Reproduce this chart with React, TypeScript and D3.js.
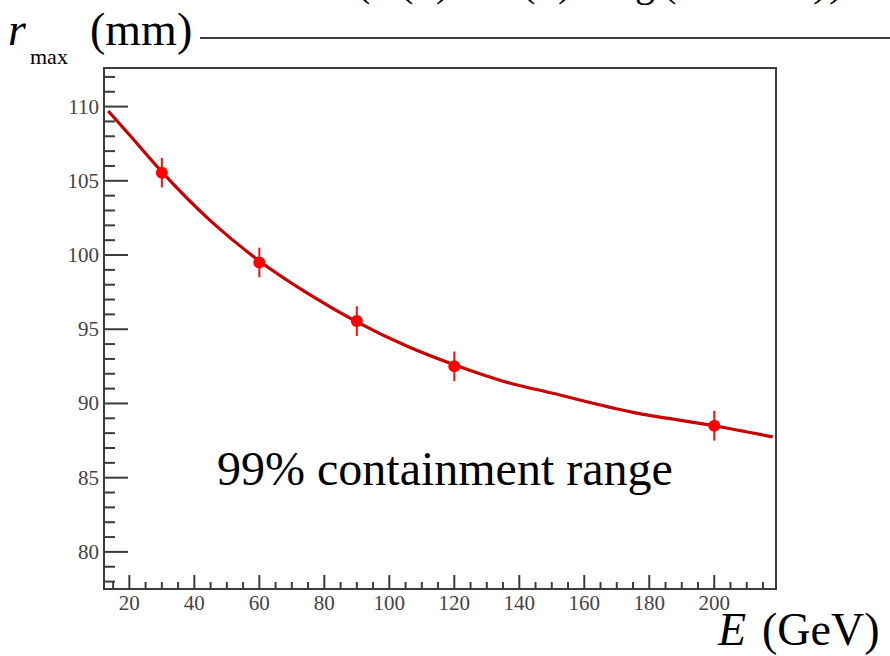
import React from "react";
import * as d3 from "d3";

// Measured points: beam energy (GeV), radius (mm), uncertainty (mm)
const energies = [30, 60, 90, 120, 200];
const radii = [105.55, 99.5, 95.55, 92.5, 88.5];
const errors = [1.0, 1.0, 1.0, 1.0, 1.0];

// Fitted curve, sampled along the energy range
const fitE = [13.5, 20, 30, 45, 60, 75, 90, 105, 120, 135, 150, 175, 200, 218];
const fitR = [109.7, 108.1, 105.6, 102.3, 99.6, 97.4, 95.5, 93.9, 92.6, 91.5, 90.7, 89.4, 88.5, 87.75];

const xMajor = [20, 40, 60, 80, 100, 120, 140, 160, 180, 200];
const yMajor = [80, 85, 90, 95, 100, 105, 110];

const W = 890;
const H = 656;
const left = 104, right = 776, top = 68, bottom = 589;
const serif = "'Liberation Serif', 'Times New Roman', serif";

export default function App() {
  const x = d3.scaleLinear().domain([12.2, 219]).range([left, right]);
  const y = d3.scaleLinear().domain([77.5, 112.6]).range([bottom, top]);

  const xMinor = d3.range(15, 219, 5).filter((v) => v % 20 !== 0);
  const yMinor = d3.range(78, 113, 1).filter((v) => v % 5 !== 0);

  const fit = fitE.map((e, i) => [e, fitR[i]] as [number, number]);
  const line = d3
    .line<[number, number]>()
    .x((d) => x(d[0]))
    .y((d) => y(d[1]))
    .curve(d3.curveMonotoneX);

  const axisColor = "#3c3c3c";

  return (
    <svg width={W} height={H} style={{ position: "absolute", left: 0, top: 0, background: "#fff" }}>
      {/* fit formula above the frame, running off the top edge */}
      <text y={-4} fontFamily={serif} fontSize={40} fill="#000">
        <tspan x={310}>r = </tspan>
        <tspan x={357}>(</tspan>
        <tspan x={372}>a</tspan>
        <tspan x={400}>(</tspan>
        <tspan x={413}>E</tspan>
        <tspan x={436}>)</tspan>
        <tspan x={470}>+ b</tspan>
        <tspan x={522}>(</tspan>
        <tspan x={535}>E</tspan>
        <tspan x={558}>)</tspan>
        <tspan x={596}>lo</tspan>
        <tspan x={635}>g</tspan>
        <tspan x={663}>(</tspan>
        <tspan x={677} fontStyle="italic">E</tspan>
        <tspan x={704} fontStyle="italic">/</tspan>
        <tspan x={724}>GeV</tspan>
        <tspan x={816} fontStyle="italic">)</tspan>
        <tspan x={832} fontStyle="italic">)</tspan>
      </text>

      {/* y-axis title and rule */}
      <text x={8} y={45} fontFamily={serif} fontSize={46} fontStyle="italic">r</text>
      <text x={30} y={64} fontFamily={serif} fontSize={22}>max</text>
      <text x={90} y={45} fontFamily={serif} fontSize={46}>(mm)</text>
      <line x1={200} x2={W} y1={38} y2={38} stroke="#000" strokeWidth={1.5} />

      {/* frame */}
      <rect x={left} y={top} width={right - left} height={bottom - top} fill="none" stroke={axisColor} strokeWidth={2} />

      {/* x ticks */}
      {xMajor.map((v) => (
        <line key={"xM" + v} x1={x(v)} x2={x(v)} y1={bottom} y2={bottom - 14} stroke={axisColor} strokeWidth={2} />
      ))}
      {xMinor.map((v) => (
        <line key={"xm" + v} x1={x(v)} x2={x(v)} y1={bottom} y2={bottom - 7} stroke={axisColor} strokeWidth={2} />
      ))}
      {xMajor.map((v) => (
        <text key={"xl" + v} x={x(v)} y={610} textAnchor="middle" fontFamily={serif} fontSize={21} fill="#444">
          {v}
        </text>
      ))}

      {/* y ticks */}
      {yMajor.map((v) => (
        <line key={"yM" + v} x1={left} x2={left + 24} y1={y(v)} y2={y(v)} stroke={axisColor} strokeWidth={2} />
      ))}
      {yMinor.map((v) => (
        <line key={"ym" + v} x1={left} x2={left + 11} y1={y(v)} y2={y(v)} stroke={axisColor} strokeWidth={2} />
      ))}
      {yMajor.map((v) => (
        <text key={"yl" + v} x={99} y={y(v) + 7} textAnchor="end" fontFamily={serif} fontSize={21} fill="#444">
          {v}
        </text>
      ))}

      {/* fit curve */}
      <path d={line(fit) ?? ""} fill="none" stroke="#c80000" strokeWidth={3.2} />

      {/* data points with error bars */}
      {energies.map((e, i) => (
        <g key={"p" + e}>
          <line x1={x(e)} x2={x(e)} y1={y(radii[i] - errors[i])} y2={y(radii[i] + errors[i])} stroke="#ee1111" strokeWidth={2} />
          <circle cx={x(e)} cy={y(radii[i])} r={6} fill="#ff0000" />
        </g>
      ))}

      <text x={217} y={485} fontFamily={serif} fontSize={48} fill="#000">
        99% containment range
      </text>

      {/* x-axis title */}
      <text x={718} y={645} fontFamily={serif} fontSize={46} fontStyle="italic">E</text>
      <text x={762} y={645} fontFamily={serif} fontSize={46}>(GeV)</text>
    </svg>
  );
}
